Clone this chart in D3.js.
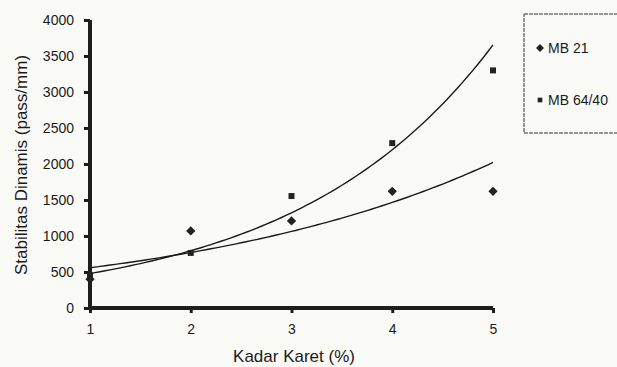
<!DOCTYPE html>
<html>
<head>
  <meta charset="utf-8">
  <script src="https://cdn.jsdelivr.net/npm/d3@7"></script>
  <style>
    body { margin: 0; background: #fafaf6; }
    svg text { font-family: "Liberation Sans", Arial, sans-serif; fill: #1a1a1a; }
  </style>
</head>
<body>
<svg id="chart" width="617" height="367"></svg>
<script>
  // data
  var kadar = [1, 2, 3, 4, 5];
  var mb21 = [400, 1070, 1210, 1620, 1620];
  var mb6440 = [450, 765, 1555, 2290, 3300];
  var yTicks = [0, 500, 1000, 1500, 2000, 2500, 3000, 3500, 4000];
  var seriesNames = ["MB 21", "MB 64/40"];

  var svg = d3.select("#chart");
  var x = d3.scaleLinear().domain([1, 5]).range([90, 493]);
  var y = d3.scaleLinear().domain([0, 4000]).range([308, 20]);

  // exponential trendline (least squares on ln y)
  function expFit(xs, ys) {
    var lx = d3.mean(xs), ly = d3.mean(ys, function(v){ return Math.log(v); });
    var num = 0, den = 0;
    xs.forEach(function(xv, i){
      num += (xv - lx) * (Math.log(ys[i]) - ly);
      den += (xv - lx) * (xv - lx);
    });
    var b = num / den, a = Math.exp(ly - b * lx);
    return function(t){ return a * Math.exp(b * t); };
  }

  var line = d3.line().x(function(d){ return x(d[0]); }).y(function(d){ return y(d[1]); });
  [mb21, mb6440].forEach(function(s){
    var f = expFit(kadar, s);
    var pts = d3.range(1, 5.001, 0.05).map(function(t){ return [t, f(t)]; });
    svg.append("path").attr("d", line(pts))
      .attr("fill", "none").attr("stroke", "#1a1a1a").attr("stroke-width", 1.4);
  });

  // axes
  var yAxis = svg.append("g").attr("transform", "translate(90,0)")
    .call(d3.axisLeft(y).tickValues(yTicks).tickFormat(d3.format("d"))
      .tickSize(6).tickPadding(10).tickSizeOuter(0));
  var xAxis = svg.append("g").attr("transform", "translate(0,308)")
    .call(d3.axisBottom(x).tickValues(kadar).tickFormat(d3.format("d"))
      .tickSize(5).tickPadding(11).tickSizeOuter(0));
  [yAxis, xAxis].forEach(function(g){
    g.select(".domain").remove();
    g.selectAll(".tick line").attr("stroke", "#1e1e1e").attr("stroke-width", 3);
    g.selectAll(".tick text").attr("fill", "#1a1a1a").attr("font-size", 14)
      .attr("font-family", "Liberation Sans, Arial, sans-serif");
  });
  // heavy axis lines
  svg.append("line").attr("x1", x(1)).attr("x2", x(1)).attr("y1", y(0) + 2).attr("y2", y(4000))
    .attr("stroke", "#1e1e1e").attr("stroke-width", 4);
  svg.append("line").attr("x1", x(1) - 2).attr("x2", x(5)).attr("y1", y(0)).attr("y2", y(0))
    .attr("stroke", "#1e1e1e").attr("stroke-width", 4);

  // markers
  var diamond = d3.symbol().type(d3.symbolDiamond2).size(55);
  var square = d3.symbol().type(d3.symbolSquare).size(36);
  svg.selectAll(".d21").data(kadar).enter().append("path")
    .attr("d", diamond)
    .attr("transform", function(d, i){ return "translate(" + x(d) + "," + y(mb21[i]) + ")"; })
    .attr("fill", "#222");
  svg.selectAll(".s64").data(kadar).enter().append("path")
    .attr("d", square)
    .attr("transform", function(d, i){ return "translate(" + x(d) + "," + y(mb6440[i]) + ")"; })
    .attr("fill", "#222");

  // axis titles
  svg.append("text").attr("x", 294).attr("y", 362).attr("text-anchor", "middle")
    .style("font-size", "17px").text("Kadar Karet (%)");
  svg.append("text").attr("transform", "translate(27,165) rotate(-90)")
    .attr("text-anchor", "middle").style("font-size", "17px").text("Stabilitas Dinamis (pass/mm)");

  // legend
  svg.append("rect").attr("x", 524).attr("y", 14).attr("width", 100).attr("height", 119)
    .attr("fill", "none").attr("stroke", "#333").attr("stroke-width", 1)
    .attr("stroke-dasharray", "4,1");
  var leg = svg.selectAll(".leg").data(seriesNames).enter().append("g")
    .attr("transform", function(d, i){ return "translate(0," + (i === 0 ? 48 : 100) + ")"; });
  leg.append("path").attr("d", function(d, i){ return i === 0 ? d3.symbol().type(d3.symbolDiamond2).size(40)() : d3.symbol().type(d3.symbolSquare).size(22)(); })
    .attr("transform", "translate(540,0)").attr("fill", "#222");
  leg.append("text").attr("x", 548).attr("y", 5).style("font-size", "14px").text(function(d){ return d; });
</script>
</body>
</html>
